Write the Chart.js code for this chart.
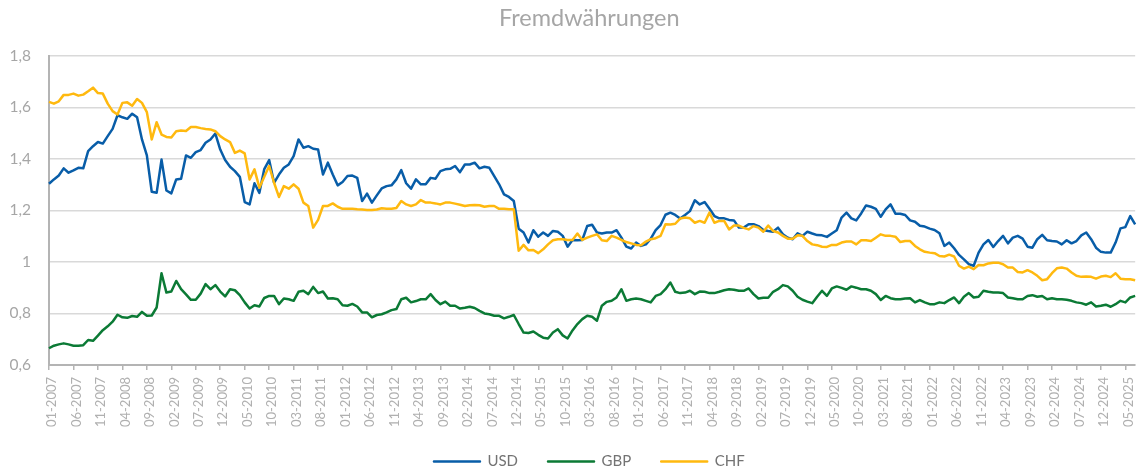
<!DOCTYPE html>
<html>
<head>
<meta charset="utf-8">
<script src="https://cdn.jsdelivr.net/npm/chart.js@4.4.1/dist/chart.umd.min.js"></script>
<style>
html,body{margin:0;padding:0;background:#fff;}
#wrap{width:1148px;height:475px;}
</style>
</head>
<body>
<div id="wrap"><canvas id="c" width="1148" height="475"></canvas></div>
<script>
const chartTitle = 'Fremdwährungen';
const seriesNames = ['USD', 'GBP', 'CHF'];
const startYear = 2007;
const labelEvery = 5;
const yTicks = [0.6, 0.8, 1.0, 1.2, 1.4, 1.6, 1.8];

const usd = [
1.303,1.320,1.335,1.363,1.346,1.355,1.365,1.363,1.430,1.449,1.465,1.459,
1.488,1.516,1.569,1.561,1.555,1.575,1.561,1.475,1.413,1.272,1.268,1.397,
1.277,1.266,1.320,1.323,1.413,1.404,1.426,1.434,1.462,1.475,1.498,1.436,
1.395,1.369,1.352,1.330,1.232,1.223,1.305,1.268,1.360,1.395,1.307,1.339,
1.365,1.378,1.410,1.475,1.443,1.449,1.439,1.436,1.339,1.385,1.339,1.297,
1.310,1.333,1.335,1.326,1.236,1.265,1.230,1.258,1.285,1.294,1.297,1.320,
1.356,1.305,1.284,1.320,1.301,1.301,1.326,1.323,1.352,1.359,1.361,1.372,
1.348,1.378,1.378,1.385,1.363,1.369,1.365,1.333,1.301,1.262,1.252,1.236,
1.129,1.114,1.075,1.123,1.098,1.114,1.101,1.120,1.117,1.101,1.059,1.085,
1.084,1.085,1.139,1.144,1.114,1.110,1.114,1.114,1.123,1.094,1.059,1.052,
1.075,1.062,1.068,1.090,1.123,1.143,1.183,1.191,1.182,1.168,1.182,1.197,
1.239,1.223,1.232,1.206,1.178,1.169,1.169,1.163,1.161,1.133,1.133,1.146,
1.146,1.139,1.124,1.120,1.117,1.133,1.107,1.094,1.088,1.111,1.101,1.117,
1.110,1.104,1.103,1.097,1.110,1.123,1.172,1.191,1.169,1.161,1.188,1.219,
1.214,1.206,1.175,1.204,1.223,1.187,1.187,1.182,1.161,1.156,1.140,1.137,
1.129,1.124,1.111,1.062,1.075,1.053,1.027,1.010,0.991,0.985,1.036,1.068,
1.085,1.058,1.081,1.101,1.072,1.094,1.101,1.090,1.059,1.055,1.088,1.105,
1.084,1.081,1.079,1.068,1.084,1.072,1.081,1.103,1.114,1.088,1.055,1.039,
1.036,1.036,1.075,1.130,1.135,1.178,1.146
];

const gbp = [
0.665,0.675,0.680,0.684,0.680,0.675,0.675,0.677,0.697,0.694,0.714,0.735,
0.750,0.768,0.795,0.785,0.783,0.790,0.787,0.806,0.791,0.792,0.823,0.956,
0.881,0.885,0.926,0.894,0.874,0.853,0.853,0.877,0.914,0.894,0.910,0.885,
0.866,0.894,0.890,0.871,0.843,0.819,0.832,0.827,0.860,0.868,0.868,0.836,
0.858,0.855,0.849,0.884,0.888,0.875,0.903,0.879,0.885,0.858,0.859,0.855,
0.832,0.830,0.837,0.827,0.804,0.804,0.785,0.794,0.797,0.804,0.813,0.817,
0.855,0.861,0.843,0.848,0.855,0.855,0.875,0.852,0.836,0.846,0.830,0.830,
0.819,0.822,0.826,0.821,0.810,0.800,0.797,0.791,0.791,0.781,0.787,0.794,
0.759,0.726,0.724,0.730,0.717,0.706,0.703,0.726,0.739,0.715,0.703,0.734,
0.759,0.778,0.791,0.787,0.772,0.830,0.845,0.849,0.862,0.894,0.849,0.855,
0.858,0.855,0.849,0.843,0.868,0.875,0.894,0.920,0.884,0.879,0.881,0.888,
0.875,0.885,0.884,0.879,0.879,0.884,0.890,0.894,0.892,0.888,0.888,0.897,
0.875,0.858,0.861,0.861,0.884,0.894,0.910,0.905,0.888,0.865,0.853,0.846,
0.840,0.865,0.888,0.868,0.897,0.905,0.899,0.892,0.905,0.900,0.894,0.894,
0.888,0.875,0.852,0.868,0.859,0.855,0.855,0.858,0.859,0.843,0.852,0.843,
0.836,0.836,0.843,0.840,0.852,0.862,0.840,0.865,0.879,0.862,0.865,0.888,
0.884,0.881,0.881,0.879,0.862,0.859,0.855,0.855,0.868,0.871,0.865,0.868,
0.855,0.859,0.855,0.855,0.853,0.849,0.843,0.840,0.834,0.843,0.827,0.830,
0.834,0.826,0.836,0.849,0.843,0.862,0.868
];

const chf = [
1.621,1.614,1.623,1.648,1.648,1.653,1.645,1.649,1.662,1.676,1.655,1.653,
1.614,1.585,1.572,1.617,1.619,1.606,1.632,1.617,1.581,1.475,1.542,1.494,
1.485,1.483,1.507,1.510,1.508,1.523,1.523,1.519,1.516,1.514,1.507,1.488,
1.475,1.465,1.423,1.432,1.421,1.320,1.359,1.288,1.330,1.372,1.307,1.252,
1.294,1.284,1.301,1.284,1.230,1.217,1.133,1.163,1.217,1.217,1.227,1.214,
1.206,1.206,1.206,1.204,1.203,1.201,1.201,1.203,1.208,1.206,1.206,1.209,
1.236,1.223,1.217,1.223,1.240,1.230,1.230,1.227,1.223,1.230,1.230,1.226,
1.222,1.217,1.220,1.221,1.220,1.214,1.217,1.217,1.206,1.206,1.204,1.204,
1.043,1.066,1.045,1.046,1.034,1.049,1.068,1.084,1.088,1.088,1.085,1.085,
1.110,1.085,1.094,1.101,1.107,1.084,1.081,1.101,1.094,1.085,1.077,1.072,
1.066,1.065,1.079,1.088,1.092,1.101,1.146,1.145,1.148,1.168,1.172,1.169,
1.152,1.159,1.152,1.191,1.152,1.159,1.159,1.126,1.141,1.141,1.132,1.126,
1.139,1.133,1.117,1.141,1.120,1.114,1.101,1.090,1.090,1.103,1.101,1.081,
1.068,1.065,1.059,1.058,1.066,1.066,1.075,1.079,1.079,1.068,1.084,1.084,
1.081,1.094,1.107,1.101,1.101,1.098,1.077,1.081,1.081,1.062,1.049,1.039,
1.036,1.034,1.023,1.021,1.028,1.021,0.985,0.974,0.982,0.972,0.988,0.987,
0.994,0.997,0.997,0.991,0.978,0.978,0.961,0.959,0.968,0.959,0.946,0.929,
0.933,0.956,0.975,0.978,0.974,0.959,0.946,0.942,0.943,0.942,0.935,0.943,
0.946,0.941,0.956,0.935,0.933,0.933,0.929
];

const months = usd.map((_, i) =>
  String(i % 12 + 1).padStart(2, '0') + '-' + (startYear + Math.floor(i / 12)));

const colors = { USD: '#085DA8', GBP: '#0B7A35', CHF: '#FFB90F' };

Chart.defaults.font.family = 'Lato, "Open Sans", "DejaVu Sans", sans-serif';

const ctx = document.getElementById('c').getContext('2d');
new Chart(ctx, {
  type: 'line',
  data: {
    labels: months,
    datasets: [
      { label: seriesNames[0], data: usd, borderColor: colors.USD, backgroundColor: colors.USD, order: 3 },
      { label: seriesNames[1], data: gbp, borderColor: colors.GBP, backgroundColor: colors.GBP, order: 2 },
      { label: seriesNames[2], data: chf, borderColor: colors.CHF, backgroundColor: colors.CHF, order: 1 }
    ]
  },
  options: {
    responsive: false,
    animation: false,
    devicePixelRatio: 1,
    layout: { padding: { left: 34, right: 3.4, top: 0, bottom: 0 } },
    elements: {
      line: { borderWidth: 2.5, tension: 0, borderJoinStyle: 'round', borderCapStyle: 'butt' },
      point: { radius: 0, hoverRadius: 0 }
    },
    plugins: {
      title: {
        display: true, text: chartTitle, color: '#a6a6a6',
        font: { size: 23.5, weight: 'normal' },
        padding: { top: 4, bottom: 23.5 }
      },
      legend: {
        position: 'bottom',
        maxHeight: 51,
        labels: {
          boxWidth: 46, boxHeight: 0, padding: 30, color: '#737373',
          font: { size: 15 },
          sort: (a, b) => a.datasetIndex - b.datasetIndex
        }
      },
      tooltip: { enabled: false }
    },
    scales: {
      x: {
        offset: false,
        grid: { drawOnChartArea: false, drawTicks: true, tickLength: 5, color: '#b4b4b4', lineWidth: 1.5 },
        border: { display: true, color: '#b4b4b4', width: 2 },
        ticks: {
          autoSkip: false, minRotation: 90, maxRotation: 90, padding: 7, labelOffset: 3,
          color: '#b0b0b0', font: { size: 13 },
          callback: function (v, i) { return i % labelEvery === 0 ? this.getLabelForValue(v) : null; }
        },
        afterFit: (s) => {
          s.height = 59;
          s._computeLabelArea = function () { return undefined; };
        }
      },
      y: {
        min: 0.6, max: 1.8,
        afterBuildTicks: (s) => { s.ticks = yTicks.map(v => ({ value: v })); },
        grid: { color: '#d9d9d9', lineWidth: 1.5, drawTicks: false },
        border: { display: true, color: '#b4b4b4', width: 2 },
        ticks: {
          padding: 18, color: '#a6a6a6', font: { size: 15.5 },
          callback: (v) => String(+Number(v).toFixed(1)).replace('.', ',')
        },
        afterFit: (s) => {
          s.width = 15;
          s._computeLabelArea = function () { return undefined; };
        }
      }
    }
  }
});
</script>
</body>
</html>
